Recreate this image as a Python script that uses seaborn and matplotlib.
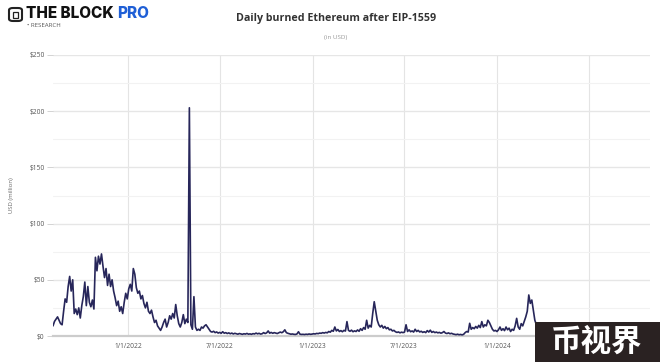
import matplotlib
matplotlib.use("Agg")
import matplotlib.pyplot as plt
from matplotlib.patches import FancyBboxPatch, Rectangle
import seaborn as sns
import pandas as pd

# ---- data (USD million burned, sampled every 3 days from 2021-08-05) ----
start_date = "2021-08-05"
step = "3D"
burn_2021 = [9, 13, 15, 17, 14, 11, 10, 22, 33, 30,
             44, 53, 40, 50, 20, 24, 19, 25, 16, 27,
             35, 48, 27, 44, 30, 26, 32, 24, 70, 58,
             71, 64, 73, 62, 52, 60, 45, 55, 44, 50,
             40, 34, 27, 31, 22, 26, 20, 30, 38, 33]
burn_2022 = [42, 46, 40, 60, 55, 43, 38, 40, 33, 36,
             29, 25, 30, 22, 20, 23, 17, 12, 14, 9,
             7, 5, 8, 12, 15, 8, 12, 18, 15, 20,
             16, 28, 18, 11, 8, 12, 19, 11, 15, 12,
             203, 10, 6, 35, 8, 5, 6, 5, 8, 7,
             9, 10, 8, 6, 4, 3.5, 4.2, 3.0, 3.6, 2.6,
             3.2, 2.4, 3.8, 2.5, 3.0, 2.2, 2.8, 2.0, 2.6, 1.8,
             2.4, 2.0, 1.6, 2.2, 1.8, 1.5, 2.0, 1.7, 2.3, 1.6,
             1.9, 1.5, 2.1, 1.8, 2.6, 1.9, 2.4, 1.7, 2.0, 3.0,
             2.2, 2.8, 4.5, 2.5, 3.2, 2.4, 3.0, 2.6, 2.2, 2.8,
             3.5, 2.9, 3.8, 5.5, 3.0, 2.4, 2.0, 1.6, 1.8, 1.5,
             1.4, 1.8, 3.8, 1.6, 1.4, 1.5, 1.3, 1.6, 1.4, 1.8]
burn_2023 = [1.5, 1.7, 2.0, 1.8, 2.3, 2.1, 2.6, 2.4, 3.0, 2.6,
             3.2, 2.8, 4.0, 3.4, 5.0, 4.2, 8.0, 4.5, 5.8, 4.0,
             4.8, 3.8, 5.0, 4.4, 12.8, 5.0, 4.2, 5.2, 3.8, 4.6,
             4.0, 5.4, 4.2, 6.5, 5.0, 7.5, 6.0, 14.0, 7.0, 9.5,
             8.0, 20.0, 30.5, 22.0, 14.0, 10.0, 8.0, 9.5, 7.0, 8.5,
             6.5, 7.5, 5.5, 6.0, 4.5, 5.0, 3.8, 3.2, 3.6, 2.8,
             3.4, 3.0, 3.5, 10.0, 4.0, 5.5, 3.8, 4.5, 3.5, 6.0,
             4.0, 5.0, 3.6, 4.2, 3.2, 3.8, 3.0, 4.8, 3.5, 5.2,
             3.2, 4.0, 3.0, 3.5, 2.8, 3.2, 2.5, 3.0, 4.0, 2.6,
             2.2, 2.8, 2.0, 2.4, 1.8, 1.5, 1.2, 1.6, 1.1, 1.4,
             1.0, 1.5, 3.0, 4.0, 3.5, 11.3, 6.0, 7.5, 6.5, 8.5,
             7.0, 9.5, 7.5, 12.8, 8.0, 10.0, 9.0, 14.0, 12.0, 9.0,
             6.0, 4.5]
burn_2024 = [5.0, 4.0, 5.5, 8.0, 5.0, 6.5, 4.8, 8.0,
             5.5, 7.0, 4.0, 6.0, 5.0, 9.0, 15.7, 8.0, 6.0, 11.0,
             9.0, 13.0, 17.0, 22.0, 36.5, 29.0, 32.0, 23.0, 14.0, 10.0, 8.0]

y_ticks = [0, 50, 100, 150, 200, 250]
y_tick_labels = ["$0", "$50", "$100", "$150", "$200", "$250"]
x_ticks = ["2022-01-01", "2022-07-01", "2023-01-01", "2023-07-01", "2024-01-01", "2024-07-01"]
# the 7/1/2024 label is hidden under the watermark in the reference
x_tick_labels = ["1/1/2022", "7/1/2022", "1/1/2023", "7/1/2023", "1/1/2024", ""]

values = burn_2021 + burn_2022 + burn_2023 + burn_2024
df = pd.DataFrame({
    "date": pd.date_range(start_date, periods=len(values), freq=step),
    "burn": values,
})

sns.set_theme(style="white")
plt.rcParams["font.family"] = ["Open Sans", "DejaVu Sans"]

W, H = 660, 362
fig = plt.figure(figsize=(W / 100, H / 100), dpi=100)
ax = fig.add_axes([53 / W, 1 - 336 / H, (650 - 53) / W, (336 - 55) / H])

sns.lineplot(data=df, x="date", y="burn", ax=ax, color="#27265a", linewidth=1.2, zorder=3)

ax.set_ylim(0, 250)
ax.set_xlim(pd.Timestamp("2021-08-05"), pd.Timestamp("2024-10-30"))
ax.set_yticks(y_ticks)
ax.set_yticklabels(y_tick_labels)
ax.set_yticks([25, 75, 125, 175, 225], minor=True)
ax.set_xticks(pd.to_datetime(x_ticks))
ax.set_xticklabels(x_tick_labels)

ax.grid(True, which="major", axis="y", color="#e6e6e6", linewidth=1.0, zorder=0)
ax.grid(True, which="minor", axis="y", color="#f2f2f2", linewidth=0.8, zorder=0)
ax.grid(True, which="major", axis="x", color="#e4e4e4", linewidth=0.8, zorder=0)

for s in ["top", "right", "left"]:
    ax.spines[s].set_visible(False)
ax.spines["bottom"].set_color("#cccccc")
ax.spines["bottom"].set_linewidth(1.6)

ax.tick_params(axis="y", which="major", length=4, width=0.6, color="#cccccc",
               labelsize=4.8, labelcolor="#555555", pad=2, left=True)
ax.tick_params(axis="y", which="minor", length=0)
ax.tick_params(axis="x", length=0, labelsize=4.8, labelcolor="#555555", pad=5)
ax.set_xlabel("")
ax.set_ylabel("USD (million)", fontsize=4.3, color="#666666", labelpad=11)

# titles
fig.text(336 / W, 1 - 19 / H, "Daily burned Ethereum after EIP-1559", ha="center", va="center",
         fontsize=7.7, fontweight="bold", color="#333333")
fig.text(336 / W, 1 - 37 / H, "(in USD)", ha="center", va="center", fontsize=4.5, color="#999999")

# logo
fig.patches.append(FancyBboxPatch((9 / W, 1 - 21 / H), 13 / W, 13 / H,
                                  boxstyle="round,pad=0,rounding_size=0.006",
                                  transform=fig.transFigure, fill=False,
                                  edgecolor="#222222", linewidth=1.5))
fig.patches.append(Rectangle((12.8 / W, 1 - 17.5 / H), 5.4 / W, 6 / H, transform=fig.transFigure,
                             fill=False, edgecolor="#222222", linewidth=0.9))
t1 = fig.text(26 / W, 1 - 14 / H, "THE BLOCK", ha="left", va="center",
              fontsize=11, fontweight="heavy", color="#111111", family=["Inter", "DejaVu Sans"])
fig.canvas.draw()
bb = t1.get_window_extent(renderer=fig.canvas.get_renderer())
fig.text(bb.x1 / W + 4 / W, 1 - 14 / H, "PRO", ha="left", va="center",
         fontsize=11, fontweight="heavy", color="#1f5fd6", family=["Inter", "DejaVu Sans"])
fig.text(27 / W, 1 - 25.5 / H, "\u2022 RESEARCH", ha="left", va="center", fontsize=4.4, color="#555555")

# watermark
fig.patches.append(Rectangle((535 / W, 0), 125 / W, 40 / H, transform=fig.transFigure,
                             facecolor="#2a2222", edgecolor="none", zorder=10))
fig.text(597 / W, 20 / H, "币视界", ha="center", va="center", fontsize=22, fontweight="bold",
         color="white", family=["Noto Sans CJK SC", "DejaVu Sans"], zorder=11)

fig.savefig("out.png", dpi=100)
